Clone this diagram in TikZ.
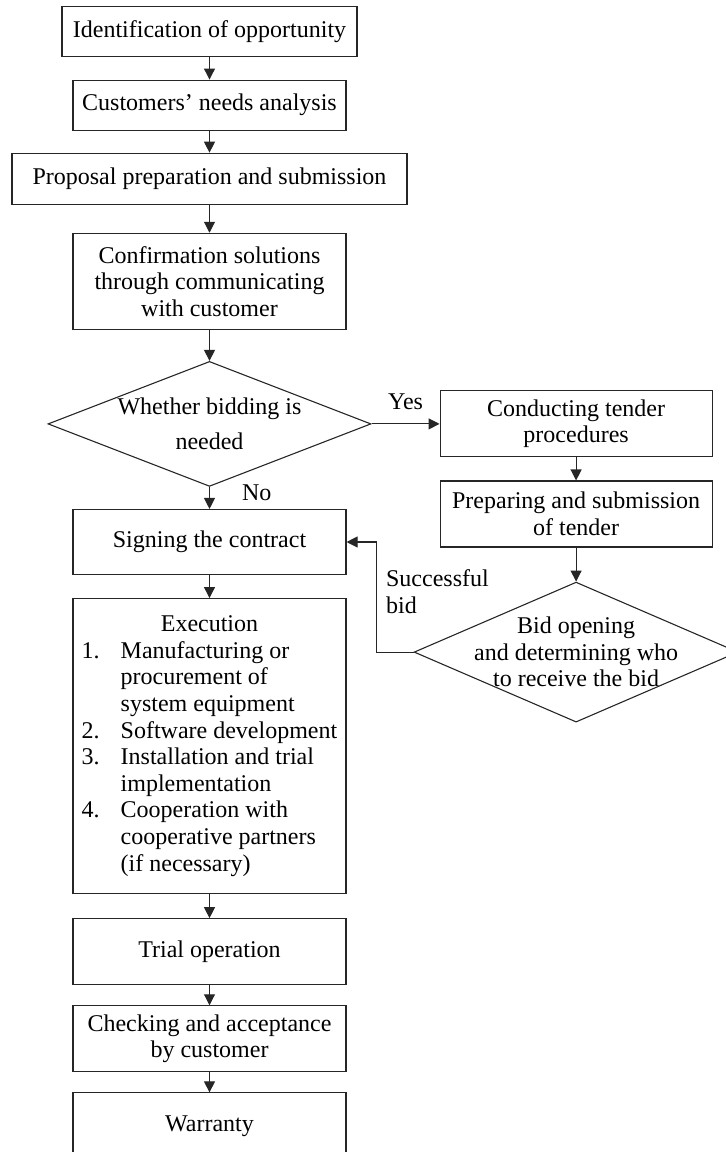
\documentclass[tikz,border=0pt]{standalone}
\usepackage{fontspec}
\setmainfont{Liberation Serif}
\usetikzlibrary{arrows.meta,positioning,shapes.geometric}
\newcommand{\flowfont}{\fontsize{24}{26.6}\selectfont}
\tikzset{
  block/.style={
    draw=black!85,
    line width=1.1pt,
    align=center,
    minimum width=273pt,
    minimum height=66pt,
    inner sep=4pt,
    font=\flowfont
  },
  decision/.style={
    diamond,
    draw=black!85,
    line width=1.1pt,
    align=center,
    inner sep=0pt,
    font=\flowfont
  },
  line/.style={-{Triangle[length=11pt,width=11pt]}, line width=1.1pt, draw=black!85},
  note/.style={font=\flowfont, align=left, inner sep=2pt}
}

\begin{document}
\begin{tikzpicture}[node distance=23pt and 68pt]
\useasboundingbox (0,0) rectangle (726pt,-1152pt);

% main column
\node[block, minimum width=295pt, minimum height=50pt] (ident) at (209.5pt,-31.5pt) {Identification of opportunity};
\node[block, minimum height=50pt, below=22.5pt of ident] (needs) {Customers' needs analysis};
\node[block, minimum width=395pt, minimum height=51pt, below=22pt of needs] (proposal) {Proposal preparation and submission};
\node[block, minimum height=96pt, below=28pt of proposal] (confirm) {Confirmation solutions\\through communicating\\with customer};
\node[decision, aspect=2.6, inner xsep=-8pt, minimum width=323pt, minimum height=125pt, below=31pt of confirm] (bidq) {Whether bidding is\\[8pt]needed};
\node[block, minimum height=65pt, below=22pt of bidq] (sign) {Signing the contract};
\node[block, minimum height=295pt, below=of sign] (exec) {%
  \begin{tabular}{@{}p{39pt}@{}l@{}}
    \multicolumn{2}{c}{Execution}\\
    1. & Manufacturing or\\
       & procurement of\\
       & system equipment\\
    2. & Software development\\
    3. & Installation and trial\\
       & implementation\\
    4. & Cooperation with\\
       & cooperative partners\\
       & (if necessary)
  \end{tabular}};
\node[block, below=24pt of exec] (trial) {Trial operation};
\node[block, below=20pt of trial] (check) {Checking and acceptance\\by customer};
\node[block, below=20pt of check] (warranty) {Warranty};

% tender branch
\node[block, minimum width=272pt, right=of bidq] (conduct) {Conducting tender\\procedures};
\node[block, minimum width=272pt, below=of conduct] (tender) {Preparing and submission\\of tender};
\node[decision, aspect=2.31, inner xsep=-40pt, minimum width=324pt, minimum height=140pt, below=34pt of tender] (bidopen) {Bid opening\\and determining who\\to receive the bid};

\draw[line] (ident) -- (needs);
\draw[line] (needs) -- (proposal);
\draw[line] (proposal) -- (confirm);
\draw[line] (confirm) -- (bidq);
\draw[line] (bidq) -- node[note, midway, anchor=west, xshift=30pt, yshift=5pt] {No} (sign);
\draw[line] (bidq) -- node[note, midway, above, yshift=12pt] {Yes} (conduct);
\draw[line] (conduct) -- (tender);
\draw[line] (tender) -- (bidopen);
\draw[line] (bidopen.west) -- ++(-37pt,0) |- node[note, pos=0.275, anchor=west, xshift=7pt] {Successful\\bid} (sign.east);
\draw[line] (sign) -- (exec);
\draw[line] (exec) -- (trial);
\draw[line] (trial) -- (check);
\draw[line] (check) -- (warranty);
\end{tikzpicture}
\end{document}
